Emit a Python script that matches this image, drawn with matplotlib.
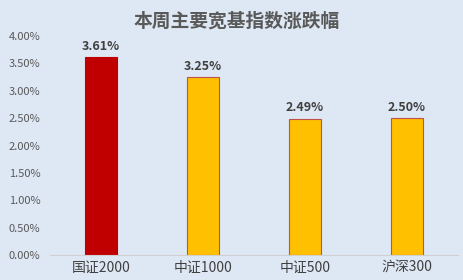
import numpy as np
import matplotlib.pyplot as plt
from matplotlib.ticker import FuncFormatter

plt.rcParams['font.family'] = ['Noto Sans CJK SC', 'DejaVu Sans']

categories = ['国证2000', '中证1000', '中证500', '沪深300']
values = [3.61, 3.25, 2.49, 2.50]
colors = ['#C00000', '#FFC000', '#FFC000', '#FFC000']
edges = ['#C00000', '#C0504D', '#C0504D', '#C0504D']

bg = '#DEE8F4'
fig = plt.figure(figsize=(4.64, 2.8), dpi=100, facecolor=bg)
ax = fig.add_axes([0.108, 0.089, 0.879, 0.782], facecolor=bg)

x = np.arange(len(categories))
ax.bar(x, values, width=0.32, color=colors, edgecolor=edges, linewidth=0.8)
for xi, v in zip(x, values):
    ax.text(xi, v + 0.08, f'{v:.2f}%', ha='center', va='bottom',
            fontsize=9, fontweight='bold', color='#404040')

ax.set_xlim(-0.5, len(categories) - 0.5)
ax.set_ylim(0, 4.0)
ax.set_yticks(np.arange(0, 4.01, 0.5))
ax.yaxis.set_major_formatter(FuncFormatter(lambda v, p: f'{v:.2f}%'))
ax.set_xticks(x)
ax.set_xticklabels(categories, fontsize=10, color='#404040')
ax.tick_params(axis='y', labelsize=8, labelcolor='#595959', length=0, pad=7)
ax.tick_params(axis='x', length=0, pad=4)
for s in ['top', 'right', 'left']:
    ax.spines[s].set_visible(False)
ax.spines['bottom'].set_color('#D0D0D0')

fig.text(0.51, 0.925, '本周主要宽基指数涨跌幅', ha='center', va='center',
         fontsize=13.5, fontweight='bold', color='#595959')

fig.savefig('out.png', dpi=100, facecolor=bg)
